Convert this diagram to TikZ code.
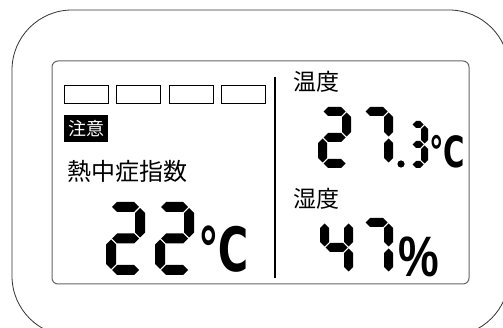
\documentclass[tikz,border=0pt]{standalone}
\usepackage{fontspec}
\setmainfont{Noto Sans CJK JP}
\newfontfamily\latinfont{Liberation Sans}
\newfontfamily\unitfont{DejaVu Sans}
\usepackage{tikz}
\usetikzlibrary{positioning}

\newcommand{\hseg}[1]{\fill[lcdseg] ({\dt/2+1},{#1}) -- ({\dt+1},{#1-\dt/2}) -- ({\dw-\dt-1},{#1-\dt/2}) -- ({\dw-\dt/2-1},{#1}) -- ({\dw-\dt-1},{#1+\dt/2}) -- ({\dt+1},{#1+\dt/2}) -- cycle;}
\newcommand{\vseg}[3]{\fill[lcdseg] ({#1},{#2+1}) -- ({#1+\dt/2},{#2+\dt/2+1}) -- ({#1+\dt/2},{#3-\dt/2-1}) -- ({#1},{#3-1}) -- ({#1-\dt/2},{#3-\dt/2-1}) -- ({#1-\dt/2},{#2+\dt/2+1}) -- cycle;}
\newcommand{\sega}{\hseg{\dt/2}}
\newcommand{\segg}{\hseg{\dh/2}}
\newcommand{\segd}{\hseg{\dh-\dt/2}}
\newcommand{\segf}{\vseg{\dt/2}{\dt/2}{\dh/2}}
\newcommand{\segb}{\vseg{\dw-\dt/2}{\dt/2}{\dh/2}}
\newcommand{\sege}{\vseg{\dt/2}{\dh/2}{\dh-\dt/2}}
\newcommand{\segc}{\vseg{\dw-\dt/2}{\dh/2}{\dh-\dt/2}}
\newcommand{\lcddigit}[5]{%
  \begin{scope}[shift={#1}]
    \pgfmathsetmacro{\dw}{#2}\pgfmathsetmacro{\dh}{#3}\pgfmathsetmacro{\dt}{#4}
    \foreach \sg in {#5}{\csname seg\sg\endcsname}
  \end{scope}}

\tikzset{
  lcdseg/.style={fill=black},
  case/.style={draw=black!80, line width=0.8pt, rounded corners=60pt},
  lcd/.style={draw=black!60, line width=1pt, rounded corners=6pt},
  levelbox/.style={draw, line width=0.8pt, minimum width=44pt, minimum height=18pt, inner sep=0pt},
  alertbox/.style={fill=black, text=white, minimum width=44pt, minimum height=27pt, inner sep=0pt, font=\fontsize{18}{18}\selectfont},
  jplabel/.style={inner sep=0pt, anchor=west, font=\fontsize{23}{23}\selectfont},
  unit/.style={inner sep=0pt, anchor=base west, xscale=0.68, font=\unitfont\bfseries},
}

\begin{document}
\begin{tikzpicture}[x=1pt,y=-1pt]
\useasboundingbox (0,0) rectangle (503,328);
\begin{scope}
\clip (0,0) rectangle (503,328);
\draw[case] (12,10) rectangle (509,336);
\end{scope}
\draw[lcd] (52,61) rectangle (469,284);

\node[levelbox] (lv1) at (86,94) {};
\node[levelbox, right=7.7pt of lv1] (lv2) {};
\node[levelbox, right=7.7pt of lv2] (lv3) {};
\node[levelbox, right=7.7pt of lv3] (lv4) {};
\node[alertbox] (alert) at (86,128.5) {注意};
\node[jplabel, font=\fontsize{24}{24}\selectfont] (wbgt) at (67,171) {熱中症指数};
\node[jplabel] (temp) at (293,82) {温度};
\node[jplabel] (hum) at (293,199) {湿度};

\draw[line width=2.5pt] (275,77) -- (275,278);

\lcddigit{(106,202)}{39}{73}{10}{a,b,g,e,d}
\lcddigit{(155,202)}{39}{73}{10}{a,b,g,e,d}
\node[unit, font=\unitfont\bfseries\fontsize{61}{61}\selectfont] (wbgtunit) at (198,272) {℃};

\lcddigit{(318,107)}{33}{61}{9}{a,b,g,e,d}
\lcddigit{(360,107)}{33}{61}{9}{a,b,c}
\fill (401,164) circle (3.6pt);
\lcddigit{(408,121)}{20}{47}{7}{a,b,g,c,d}
\node[unit, font=\unitfont\bfseries\fontsize{43}{43}\selectfont] (tempunit) at (429,168) {℃};

\lcddigit{(320,218)}{33}{59}{9}{f,g,b,c}
\lcddigit{(360,218)}{33}{59}{9}{a,b,c}
\node[unit, xscale=1.18, font=\latinfont\bfseries\fontsize{57}{57}\selectfont] (humunit) at (398,277) {\%};
\end{tikzpicture}
\end{document}
